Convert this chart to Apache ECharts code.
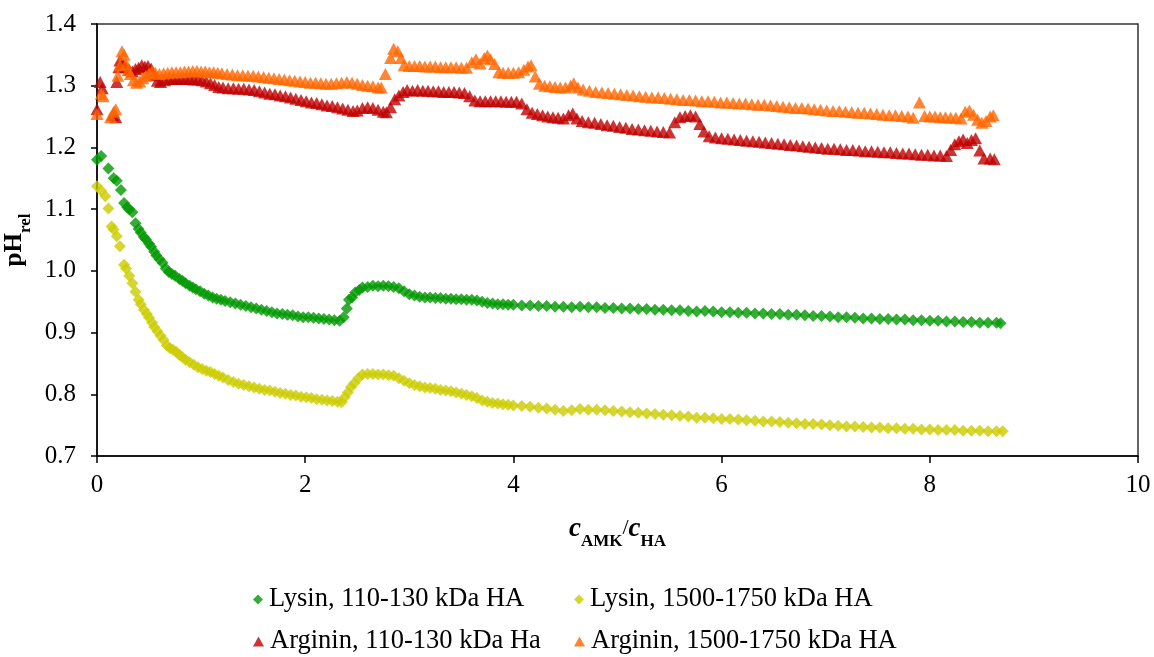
<!DOCTYPE html>
<html>
<head>
<meta charset="utf-8">
<script src="https://cdn.jsdelivr.net/npm/echarts@6/dist/echarts.min.js"></script>
<style>
  html, body { margin: 0; padding: 0; background: #fff; }
  #chart { width: 1154px; height: 657px; }
</style>
</head>
<body>
<div id="chart"></div>
<script>
// x ticks and y ticks
const xTicks = [0, 2, 4, 6, 8, 10]
const yTicks = [0.7, 0.8, 0.9, 1.0, 1.1, 1.2, 1.3, 1.4]

// Lysin, 110-130 kDa HA  [cAMK/cHA, pHrel]
const lysinLow = [
  [0,1.180],[0.04,1.186],[0.11,1.166],[0.16,1.150],[0.19,1.146],[0.23,1.131],[0.26,1.110],[0.29,1.103],[0.31,1.100],[0.34,1.095],
  [0.37,1.077],[0.40,1.068],[0.42,1.062],[0.45,1.055],[0.47,1.051],[0.50,1.044],[0.52,1.039],[0.55,1.031],[0.57,1.025],[0.60,1.019],
  [0.63,1.013],[0.66,1.004],[0.69,0.998],[0.72,0.995],[0.75,0.992],[0.79,0.987],[0.82,0.984],[0.85,0.980],[0.89,0.976],[0.92,0.973],
  [0.95,0.970],[0.99,0.967],[1.03,0.963],[1.07,0.960],[1.11,0.957],[1.15,0.955],[1.19,0.953],[1.23,0.951],[1.28,0.949],[1.33,0.947],
  [1.38,0.945],[1.43,0.943],[1.48,0.941],[1.53,0.939],[1.58,0.937],[1.63,0.935],[1.68,0.933],[1.73,0.931],[1.78,0.930],[1.83,0.929],
  [1.88,0.928],[1.93,0.926],[1.98,0.925],[2.03,0.925],[2.08,0.924],[2.13,0.923],[2.18,0.922],[2.23,0.921],[2.28,0.920],[2.33,0.919],
  [2.37,0.925],[2.40,0.939],[2.42,0.953],[2.45,0.957],[2.48,0.965],[2.52,0.969],[2.55,0.973],[2.60,0.974],[2.65,0.976],[2.70,0.975],
  [2.75,0.976],[2.80,0.975],[2.85,0.974],[2.90,0.972],[2.95,0.967],[3.00,0.962],[3.05,0.960],[3.10,0.958],[3.15,0.957],[3.20,0.957],
  [3.25,0.956],[3.30,0.956],[3.35,0.955],[3.40,0.955],[3.45,0.954],[3.50,0.954],[3.55,0.953],[3.60,0.953],[3.65,0.952],[3.70,0.950],
  [3.75,0.948],[3.80,0.947],[3.85,0.946],[3.90,0.946],[3.95,0.945],[4.00,0.945],[4.08,0.944],[4.16,0.944],[4.24,0.943],[4.32,0.943],
  [4.40,0.942],[4.48,0.942],[4.56,0.941],[4.64,0.942],[4.72,0.941],[4.80,0.941],[4.88,0.940],[4.96,0.940],[5.04,0.939],[5.12,0.939],
  [5.20,0.938],[5.28,0.938],[5.36,0.937],[5.44,0.937],[5.52,0.936],[5.60,0.936],[5.68,0.935],[5.76,0.934],[5.84,0.935],[5.92,0.934],
  [6.00,0.933],[6.08,0.933],[6.16,0.932],[6.24,0.932],[6.32,0.931],[6.40,0.931],[6.48,0.930],[6.56,0.930],[6.64,0.929],[6.72,0.929],
  [6.80,0.928],[6.88,0.927],[6.96,0.927],[7.04,0.926],[7.12,0.925],[7.20,0.925],[7.28,0.924],[7.36,0.923],[7.44,0.923],[7.52,0.922],
  [7.60,0.922],[7.68,0.921],[7.76,0.921],[7.84,0.920],[7.92,0.920],[8.00,0.919],[8.08,0.919],[8.16,0.918],[8.24,0.918],[8.32,0.917],
  [8.40,0.917],[8.48,0.916],[8.56,0.916],[8.64,0.916],[8.68,0.915]
]

// Lysin, 1500-1750 kDa HA
const lysinHigh = [
  [0,1.137],[0.04,1.130],[0.08,1.121],[0.11,1.101],[0.14,1.072],[0.16,1.067],[0.19,1.056],[0.22,1.040],[0.26,1.010],[0.28,1.004],
  [0.31,0.992],[0.34,0.980],[0.37,0.966],[0.40,0.953],[0.42,0.946],[0.45,0.937],[0.48,0.930],[0.50,0.924],[0.53,0.916],[0.55,0.909],
  [0.58,0.902],[0.61,0.895],[0.64,0.888],[0.67,0.879],[0.70,0.875],[0.73,0.872],[0.76,0.869],[0.79,0.864],[0.82,0.860],[0.85,0.856],
  [0.89,0.852],[0.93,0.848],[0.97,0.844],[1.01,0.841],[1.05,0.838],[1.09,0.836],[1.13,0.833],[1.17,0.830],[1.21,0.827],[1.26,0.823],
  [1.31,0.820],[1.36,0.817],[1.41,0.815],[1.46,0.813],[1.51,0.811],[1.56,0.809],[1.61,0.807],[1.66,0.806],[1.71,0.804],[1.76,0.802],
  [1.81,0.801],[1.86,0.799],[1.91,0.798],[1.96,0.796],[2.01,0.795],[2.06,0.794],[2.11,0.792],[2.16,0.791],[2.21,0.790],[2.26,0.789],
  [2.31,0.788],[2.35,0.787],[2.38,0.795],[2.41,0.803],[2.44,0.812],[2.47,0.818],[2.51,0.826],[2.55,0.832],[2.60,0.833],[2.65,0.833],
  [2.70,0.832],[2.75,0.832],[2.80,0.831],[2.85,0.830],[2.90,0.826],[2.95,0.822],[3.00,0.818],[3.05,0.815],[3.10,0.813],[3.15,0.811],
  [3.20,0.810],[3.25,0.809],[3.30,0.807],[3.35,0.806],[3.40,0.805],[3.45,0.803],[3.50,0.801],[3.55,0.799],[3.60,0.797],[3.65,0.794],
  [3.70,0.790],[3.75,0.788],[3.80,0.786],[3.85,0.785],[3.90,0.784],[3.95,0.783],[4.00,0.782],[4.08,0.781],[4.16,0.780],[4.24,0.778],
  [4.32,0.777],[4.40,0.775],[4.48,0.773],[4.56,0.774],[4.64,0.776],[4.72,0.775],[4.80,0.775],[4.88,0.774],[4.96,0.773],[5.04,0.772],
  [5.12,0.771],[5.20,0.770],[5.28,0.769],[5.36,0.768],[5.44,0.767],[5.52,0.766],[5.60,0.765],[5.68,0.764],[5.76,0.762],[5.84,0.762],
  [5.92,0.761],[6.00,0.760],[6.08,0.760],[6.16,0.759],[6.24,0.758],[6.32,0.757],[6.40,0.756],[6.48,0.756],[6.56,0.755],[6.64,0.754],
  [6.72,0.753],[6.80,0.752],[6.88,0.752],[6.96,0.751],[7.04,0.750],[7.12,0.749],[7.20,0.748],[7.28,0.748],[7.36,0.747],[7.44,0.746],
  [7.52,0.746],[7.60,0.745],[7.68,0.745],[7.76,0.744],[7.84,0.744],[7.92,0.743],[8.00,0.743],[8.08,0.742],[8.16,0.742],[8.24,0.742],
  [8.32,0.741],[8.40,0.741],[8.48,0.741],[8.56,0.740],[8.64,0.740],[8.70,0.740]
]

// Arginin, 110-130 kDa Ha
const argininLow = [
  [0,1.262],[0.03,1.306],[0.05,1.296],[0.15,1.252],[0.18,1.249],[0.19,1.306],[0.21,1.330],[0.22,1.341],[0.25,1.336],[0.28,1.330],
  [0.31,1.326],[0.34,1.323],[0.37,1.327],[0.40,1.329],[0.43,1.333],[0.46,1.331],[0.49,1.332],[0.52,1.328],[0.55,1.317],[0.58,1.308],
  [0.61,1.306],[0.65,1.309],[0.69,1.311],[0.73,1.311],[0.77,1.311],[0.81,1.311],[0.85,1.311],[0.89,1.311],[0.93,1.310],[0.97,1.310],
  [1.01,1.309],[1.05,1.307],[1.09,1.304],[1.13,1.301],[1.17,1.298],[1.21,1.297],[1.26,1.296],[1.31,1.296],[1.36,1.295],[1.41,1.295],
  [1.46,1.294],[1.51,1.293],[1.56,1.291],[1.61,1.289],[1.66,1.287],[1.71,1.286],[1.76,1.284],[1.81,1.283],[1.86,1.281],[1.91,1.279],
  [1.96,1.277],[2.01,1.275],[2.06,1.273],[2.11,1.272],[2.16,1.270],[2.21,1.268],[2.26,1.267],[2.31,1.265],[2.36,1.263],[2.41,1.261],
  [2.46,1.259],[2.50,1.260],[2.55,1.264],[2.60,1.265],[2.65,1.264],[2.70,1.261],[2.75,1.258],[2.78,1.257],[2.82,1.265],[2.86,1.278],
  [2.90,1.284],[2.94,1.290],[2.98,1.293],[3.03,1.292],[3.08,1.293],[3.13,1.292],[3.18,1.292],[3.23,1.291],[3.28,1.291],[3.33,1.290],
  [3.38,1.290],[3.43,1.290],[3.48,1.289],[3.53,1.288],[3.58,1.283],[3.63,1.276],[3.68,1.275],[3.73,1.275],[3.78,1.275],[3.83,1.275],
  [3.88,1.275],[3.93,1.274],[3.98,1.274],[4.03,1.274],[4.08,1.271],[4.13,1.262],[4.18,1.256],[4.23,1.254],[4.28,1.252],[4.33,1.250],
  [4.38,1.249],[4.43,1.248],[4.48,1.247],[4.53,1.252],[4.57,1.255],[4.61,1.247],[4.66,1.243],[4.72,1.241],[4.78,1.240],[4.84,1.238],
  [4.90,1.236],[4.96,1.235],[5.02,1.233],[5.08,1.232],[5.14,1.230],[5.20,1.229],[5.26,1.228],[5.32,1.227],[5.38,1.226],[5.44,1.225],
  [5.50,1.224],[5.55,1.241],[5.60,1.249],[5.65,1.251],[5.70,1.252],[5.75,1.250],[5.79,1.238],[5.83,1.226],[5.88,1.218],[5.94,1.216],
  [6.00,1.215],[6.06,1.214],[6.12,1.213],[6.18,1.212],[6.24,1.211],[6.30,1.210],[6.36,1.209],[6.42,1.208],[6.48,1.207],[6.54,1.206],
  [6.60,1.205],[6.66,1.204],[6.72,1.203],[6.78,1.202],[6.84,1.201],[6.90,1.200],[6.96,1.199],[7.02,1.198],[7.08,1.198],[7.14,1.197],
  [7.20,1.196],[7.26,1.196],[7.32,1.195],[7.38,1.194],[7.44,1.194],[7.50,1.193],[7.56,1.192],[7.62,1.192],[7.68,1.191],[7.74,1.190],
  [7.80,1.190],[7.86,1.189],[7.92,1.188],[7.98,1.188],[8.04,1.187],[8.10,1.187],[8.16,1.186],[8.20,1.196],[8.24,1.205],[8.28,1.210],
  [8.32,1.213],[8.36,1.207],[8.40,1.212],[8.44,1.215],[8.48,1.195],[8.52,1.182],[8.58,1.182],[8.62,1.181]
]

// Arginin, 1500-1750 kDa HA
const argininHigh = [
  [0,1.254],[0.04,1.287],[0.06,1.283],[0.13,1.249],[0.16,1.258],[0.18,1.262],[0.20,1.316],[0.22,1.333],[0.24,1.356],[0.26,1.350],
  [0.28,1.335],[0.30,1.325],[0.32,1.319],[0.35,1.309],[0.38,1.305],[0.41,1.307],[0.44,1.312],[0.47,1.316],[0.50,1.320],[0.53,1.324],
  [0.56,1.321],[0.60,1.319],[0.64,1.320],[0.68,1.321],[0.72,1.322],[0.76,1.322],[0.80,1.322],[0.84,1.323],[0.88,1.323],[0.92,1.324],
  [0.96,1.324],[1.00,1.323],[1.04,1.323],[1.08,1.322],[1.12,1.322],[1.16,1.321],[1.20,1.320],[1.25,1.319],[1.30,1.318],[1.35,1.317],
  [1.40,1.317],[1.45,1.316],[1.50,1.316],[1.55,1.315],[1.60,1.314],[1.65,1.313],[1.70,1.312],[1.75,1.311],[1.80,1.310],[1.85,1.309],
  [1.90,1.308],[1.95,1.307],[2.00,1.306],[2.05,1.305],[2.10,1.305],[2.15,1.304],[2.20,1.303],[2.25,1.303],[2.30,1.304],[2.35,1.305],
  [2.40,1.306],[2.45,1.305],[2.50,1.303],[2.55,1.301],[2.60,1.300],[2.65,1.299],[2.70,1.297],[2.73,1.297],[2.77,1.319],[2.82,1.345],
  [2.85,1.360],[2.89,1.356],[2.92,1.345],[2.95,1.333],[3.00,1.332],[3.05,1.332],[3.10,1.332],[3.15,1.331],[3.20,1.331],[3.25,1.331],
  [3.30,1.330],[3.35,1.330],[3.40,1.330],[3.45,1.330],[3.50,1.329],[3.55,1.329],[3.60,1.338],[3.64,1.343],[3.68,1.336],[3.72,1.345],
  [3.75,1.349],[3.78,1.343],[3.82,1.335],[3.86,1.322],[3.90,1.321],[3.95,1.321],[4.00,1.321],[4.05,1.322],[4.10,1.326],[4.14,1.331],
  [4.17,1.333],[4.21,1.315],[4.25,1.303],[4.30,1.300],[4.35,1.299],[4.40,1.298],[4.45,1.297],[4.50,1.297],[4.55,1.300],[4.58,1.304],
  [4.62,1.297],[4.67,1.294],[4.73,1.292],[4.79,1.290],[4.85,1.289],[4.91,1.288],[4.97,1.287],[5.03,1.286],[5.09,1.285],[5.15,1.284],
  [5.21,1.283],[5.27,1.282],[5.33,1.281],[5.39,1.281],[5.45,1.280],[5.51,1.279],[5.57,1.278],[5.63,1.277],[5.69,1.277],[5.75,1.276],
  [5.81,1.275],[5.87,1.275],[5.93,1.274],[5.99,1.273],[6.05,1.273],[6.11,1.272],[6.17,1.271],[6.23,1.271],[6.29,1.270],[6.35,1.269],
  [6.41,1.269],[6.47,1.268],[6.53,1.267],[6.59,1.266],[6.65,1.265],[6.71,1.264],[6.77,1.264],[6.83,1.263],[6.89,1.262],[6.95,1.261],
  [7.01,1.260],[7.07,1.259],[7.13,1.259],[7.19,1.258],[7.25,1.257],[7.31,1.256],[7.37,1.256],[7.43,1.255],[7.49,1.254],[7.55,1.253],
  [7.61,1.252],[7.67,1.252],[7.73,1.251],[7.79,1.250],[7.84,1.248],[7.90,1.273],[7.95,1.251],[8.00,1.250],[8.05,1.250],[8.10,1.249],
  [8.15,1.249],[8.20,1.248],[8.25,1.248],[8.30,1.247],[8.34,1.258],[8.38,1.260],[8.42,1.253],[8.46,1.245],[8.50,1.240],[8.54,1.243],
  [8.58,1.250],[8.61,1.252]
]

const names = ['Lysin, 110-130 kDa HA', 'Lysin, 1500-1750 kDa HA', 'Arginin, 110-130 kDa Ha', 'Arginin, 1500-1750 kDa HA']
const colors = ['#009900', '#CCCC00', '#C00000', '#FF6600']

const font = "'Liberation Serif', 'Times New Roman', serif"

const chart = echarts.init(document.getElementById('chart'))

function legendItem(i, left, top) {
  return {
    left: left,
    top: top,
    orient: 'horizontal',
    itemWidth: i < 2 ? 10 : 11,
    itemHeight: 10,
    itemGap: 6,
    icon: i < 2 ? 'diamond' : 'triangle',
    data: [names[i]],
    textStyle: { fontFamily: font, fontSize: 26.5, color: '#000', padding: [0, 0, 0, 1] },
  }
}

chart.setOption({
  animation: false,
  color: colors,
  grid: {
    left: 97,
    right: 16,
    top: 24,
    bottom: 201,
    containLabel: false,
    outerBoundsMode: 'none',
    show: true,
    borderColor: '#333',
    borderWidth: 1.5,
  },
  legend: [
    legendItem(0, 248, 581),
    legendItem(1, 569, 581),
    legendItem(2, 248, 623),
    legendItem(3, 569, 623),
  ],
  xAxis: {
    type: 'value',
    min: xTicks[0],
    max: xTicks[xTicks.length - 1],
    interval: 2,
    name: '{c|c}{s|AMK}{d|/}{c|c}{s|HA}',
    nameLocation: 'middle',
    nameGap: 60,
    nameTextStyle: {
      rich: {
        c: { fontFamily: font, fontSize: 27, fontWeight: 'bold', fontStyle: 'italic', color: '#000', padding: [0, 0, 7, 0] },
        s: { fontFamily: font, fontSize: 17, fontWeight: 'bold', color: '#000', verticalAlign: 'bottom' },
        d: { fontFamily: font, fontSize: 22, color: '#000', padding: [0, 0, 9, 0] },
      },
    },
    axisLine: { lineStyle: { color: '#000', width: 1.5 } },
    axisTick: { show: true, inside: false, length: 7, lineStyle: { color: '#000', width: 1.5 } },
    axisLabel: { fontFamily: font, fontSize: 25, color: '#000', margin: 17 },
    splitLine: { show: false },
  },
  yAxis: {
    type: 'value',
    min: yTicks[0],
    max: yTicks[yTicks.length - 1],
    interval: 0.1,
    name: '{a|pH}{b|rel}',
    nameLocation: 'middle',
    nameGap: 47,
    nameTextStyle: {
      rich: {
        a: { fontFamily: font, fontSize: 25, fontWeight: 'bold', color: '#000', padding: [0, 0, 7, 0] },
        b: { fontFamily: font, fontSize: 17, fontWeight: 'bold', color: '#000', verticalAlign: 'bottom' },
      },
    },
    axisLine: { show: true, lineStyle: { color: '#000', width: 1.5 } },
    axisTick: { show: true, inside: false, length: 6, lineStyle: { color: '#000', width: 1.5 } },
    axisLabel: {
      fontFamily: font,
      fontSize: 25,
      color: '#000',
      margin: 21,
      formatter: (v) => v.toFixed(1),
    },
    splitLine: { show: false },
  },
  series: [
    { name: names[0], type: 'scatter', symbol: 'diamond', symbolSize: 12, data: lysinLow, itemStyle: { color: colors[0] } },
    { name: names[1], type: 'scatter', symbol: 'diamond', symbolSize: 12, data: lysinHigh, itemStyle: { color: colors[1] } },
    { name: names[2], type: 'scatter', symbol: 'triangle', symbolSize: [13, 12], data: argininLow, itemStyle: { color: colors[2] } },
    { name: names[3], type: 'scatter', symbol: 'triangle', symbolSize: [13, 12], data: argininHigh, itemStyle: { color: colors[3] } },
  ],
})
</script>
</body>
</html>
